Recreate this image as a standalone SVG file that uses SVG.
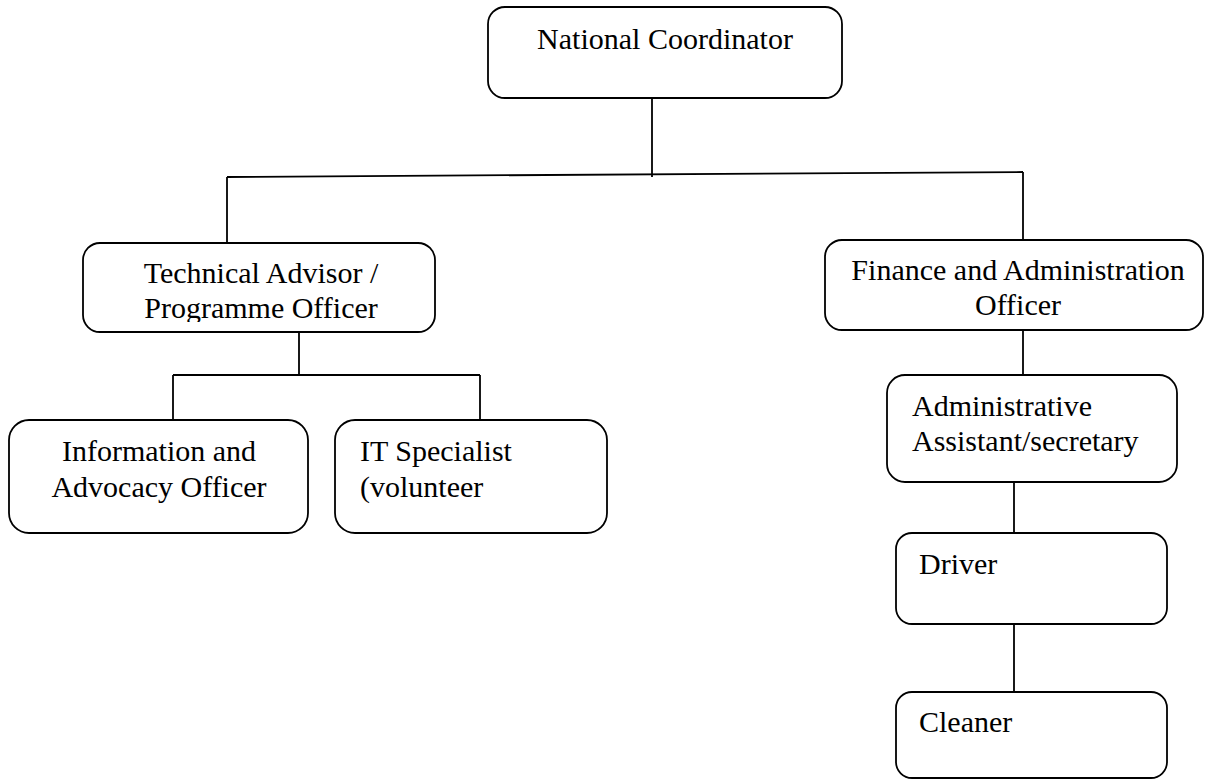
<svg xmlns="http://www.w3.org/2000/svg" width="1205" height="781" viewBox="0 0 1205 781">
<style>
.box{fill:#fff;stroke:#000;stroke-width:1.8}
.ln{fill:none;stroke:#000;stroke-width:1.8}
text{font-family:"Liberation Serif","Times New Roman",serif;font-size:30px;fill:#000}
.c{text-anchor:middle}
</style>
<defs>
<clipPath id="clipTech"><rect x="84" y="244" width="350" height="78"/></clipPath>
</defs>
<rect width="1205" height="781" fill="#fff"/>
<g id="connectors">
<line class="ln" x1="652" y1="98" x2="652" y2="177"/>
<line class="ln" x1="227" y1="177" x2="1023" y2="172"/>
<line class="ln" x1="227" y1="177" x2="227" y2="243"/>
<line class="ln" x1="1023" y1="172" x2="1023" y2="240"/>
<line class="ln" x1="299" y1="332" x2="299" y2="375"/>
<line class="ln" x1="173" y1="375" x2="480" y2="375"/>
<line class="ln" x1="173" y1="375" x2="173" y2="420"/>
<line class="ln" x1="480" y1="375" x2="480" y2="420"/>
<line class="ln" x1="1023" y1="330" x2="1023" y2="375"/>
<line class="ln" x1="1014" y1="482" x2="1014" y2="533"/>
<line class="ln" x1="1014" y1="624" x2="1014" y2="692"/>
</g>
<g id="national-coordinator">
<rect class="box" x="488" y="7" width="354" height="91" rx="17"/>
<text class="c" x="665" y="49">National Coordinator</text>
</g>
<g id="technical-advisor">
<rect class="box" x="83" y="243" width="352" height="89" rx="17"/>
<g clip-path="url(#clipTech)">
<text class="c" x="261" y="283">Technical Advisor /</text>
<text class="c" x="261" y="318">Programme Officer</text>
</g>
</g>
<g id="finance-officer">
<rect class="box" x="825" y="240" width="378" height="90" rx="17"/>
<text class="c" x="1018" y="280">Finance and Administration</text>
<text class="c" x="1018" y="315">Officer</text>
</g>
<g id="information-advocacy">
<rect class="box" x="9" y="420" width="299" height="113" rx="20"/>
<text class="c" x="159" y="461">Information and</text>
<text class="c" x="159" y="497">Advocacy Officer</text>
</g>
<g id="it-specialist">
<rect class="box" x="335" y="420" width="272" height="113" rx="20"/>
<text x="360" y="461">IT Specialist</text>
<text x="360" y="497">(volunteer</text>
</g>
<g id="administrative-assistant">
<rect class="box" x="887" y="375" width="290" height="107" rx="18"/>
<text x="912" y="416">Administrative</text>
<text x="912" y="451">Assistant/secretary</text>
</g>
<g id="driver">
<rect class="box" x="896" y="533" width="271" height="91" rx="16"/>
<text x="919" y="574">Driver</text>
</g>
<g id="cleaner">
<rect class="box" x="896" y="692" width="271" height="86" rx="16"/>
<text x="919" y="732">Cleaner</text>
</g>
</svg>
